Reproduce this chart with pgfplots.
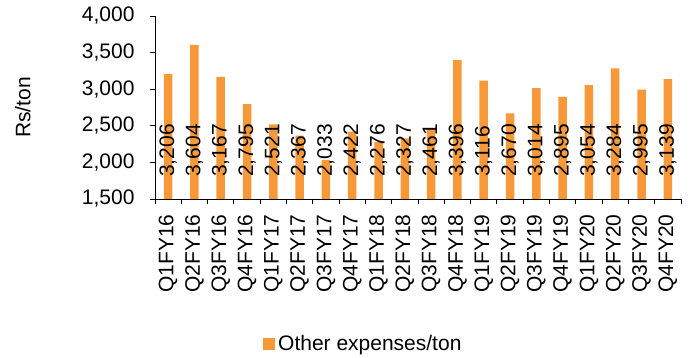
\documentclass[border=0pt]{standalone}
\usepackage{pgfplots}
\pgfplotsset{compat=1.18}
\usepackage{fontspec}
\setmainfont{Liberation Sans}
\definecolor{barorange}{RGB}{247,153,57}
\pgfplotstableread{
x y
0 3206
1 3604
2 3167
3 2795
4 2521
5 2367
6 2033
7 2422
8 2276
9 2327
10 2461
11 3396
12 3116
13 2670
14 3014
15 2895
16 3054
17 3284
18 2995
19 3139
}\datatable
\begin{document}
\begin{tikzpicture}[font=\fontsize{21}{25}\selectfont]
\begin{axis}[
  at={(0,0)}, anchor=south west,
  scale only axis, width=526pt, height=183pt,
  xmin=-0.5, xmax=19.5, ymin=1500, ymax=4000,
  axis lines*=left,
  axis line style={line width=0.8pt},
  tick align=outside,
  major tick length=5pt, minor tick length=5pt,
  tick style={black, line width=0.8pt},
  ytick={1500,2000,...,4000},
  scaled y ticks=false,
  /pgf/number format/1000 sep={,},
  /pgf/number format/assume math mode=true,
  yticklabel style={anchor=east, xshift=-12pt},
  xtick={0,...,19},
  xticklabels={Q1FY16,Q2FY16,Q3FY16,Q4FY16,Q1FY17,Q2FY17,Q3FY17,Q4FY17,Q1FY18,Q2FY18,Q3FY18,Q4FY18,Q1FY19,Q2FY19,Q3FY19,Q4FY19,Q1FY20,Q2FY20,Q3FY20,Q4FY20},
  major x tick style={draw=none},
  minor xtick={-0.5,0.5,...,19.5},
  xticklabel style={yshift=-7pt, rotate=90, anchor=east},
  every axis y label/.style={at={(axis description cs:-0.251,0.5)}, rotate=90, anchor=center},
  ylabel={Rs/ton},
  legend style={at={(axis description cs:0.2053,-0.792)}, anchor=west, draw=none, fill=none, inner sep=0pt, /tikz/every even column/.append style={column sep=0pt}},
  legend cell align=left,
  clip=false,
]
\addplot[ybar, bar width=8.5pt, fill=barorange, draw=none,
  nodes near coords={\pgfmathprintnumber[1000 sep={,}]{\pgfplotspointmeta}},
  point meta=y,
  visualization depends on={y \as \rawy},
  every node near coord/.append style={shift={(axis direction cs:0,{1800-\rawy})}, rotate=90, anchor=west, inner sep=0pt, black, font=\fontsize{21}{25}\selectfont},
  legend image code/.code={\fill[barorange] (0pt,-6pt) rectangle (12pt,6pt);}
] table[x=x, y=y] {\datatable};
\addlegendentry{\hspace*{1pt}Other expenses/ton}
\end{axis}
\pgfresetboundingbox
\useasboundingbox (-155pt,-159pt) rectangle (539pt,199pt);
\end{tikzpicture}
\end{document}
